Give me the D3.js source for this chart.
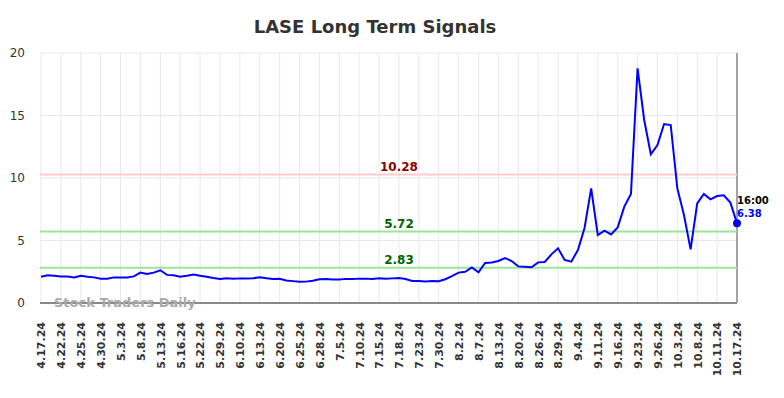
<!DOCTYPE html>
<head>
<meta charset="utf-8">
<style>
  body { margin:0; background:#fff; }
  text { font-family: "DejaVu Sans", sans-serif; }
  .grid line { stroke:#e8e8e8; stroke-width:1; }
</style>
</head>
<body>
<script src="https://cdn.jsdelivr.net/npm/d3@7/dist/d3.min.js"></script>
<script>

var width = 784,
    height = 398;

// tick labels, one every third point
var tickLabels = ["4.17.24","4.22.24","4.25.24","4.30.24","5.3.24","5.8.24","5.13.24","5.16.24",
  "5.22.24","5.29.24","6.10.24","6.13.24","6.20.24","6.25.24","6.28.24","7.5.24","7.10.24",
  "7.15.24","7.18.24","7.23.24","7.30.24","8.2.24","8.7.24","8.13.24","8.20.24","8.26.24",
  "8.29.24","9.4.24","9.11.24","9.16.24","9.23.24","9.26.24","10.3.24","10.8.24","10.11.24","10.17.24"];

var signal = [2.10,2.22,2.18,2.12,2.12,2.05,2.18,2.10,2.05,1.95,1.95,2.05,2.05,2.05,2.13,2.43,
  2.32,2.43,2.62,2.25,2.22,2.10,2.18,2.28,2.18,2.10,2.00,1.93,1.97,1.95,1.97,1.97,1.98,2.05,
  1.98,1.92,1.93,1.80,1.75,1.70,1.71,1.78,1.90,1.92,1.88,1.88,1.93,1.93,1.95,1.95,1.93,1.97,
  1.95,1.97,2.00,1.92,1.76,1.76,1.72,1.75,1.74,1.90,2.15,2.43,2.50,2.85,2.45,3.20,3.24,3.36,
  3.60,3.36,2.93,2.90,2.86,3.25,3.28,3.89,4.37,3.44,3.31,4.24,6.00,9.17,5.44,5.79,5.49,6.05,
  7.71,8.72,18.77,14.64,11.90,12.64,14.32,14.24,9.17,7.04,4.29,7.97,8.72,8.29,8.56,8.61,8.03,6.38];

var levels = [10.28, 5.72, 2.83];
var levelLine = ["#ffcccc", "#99e699", "#99e699"];
var levelText = ["#8b0000", "#006400", "#006400"];
var yTicks = [0, 5, 10, 15, 20];
var lastTime = "16:00";

var x = d3.scaleLinear().domain([0, signal.length - 1]).range([41, 737]);
var y = d3.scaleLinear().domain([0, 20]).range([303, 53]);

var svg = d3.select("body").append("svg")
    .attr("width", width)
    .attr("height", height);

svg.append("text")
    .attr("x", 375).attr("y", 33)
    .attr("text-anchor", "middle")
    .style("font-size", "18px").style("font-weight", "bold").style("fill", "#333")
    .text("LASE Long Term Signals");

// grid
var grid = svg.append("g").attr("class", "grid");
grid.selectAll(".gy").data(yTicks).enter().append("line")
    .attr("x1", 40).attr("x2", 737)
    .attr("y1", d => y(d)).attr("y2", d => y(d));
grid.selectAll(".gx").data(tickLabels).enter().append("line")
    .attr("x1", (d, i) => x(i * 3)).attr("x2", (d, i) => x(i * 3))
    .attr("y1", 53).attr("y2", 303);

// y axis labels
var yAxis = d3.axisLeft(y).tickValues(yTicks).tickSize(0).tickPadding(0);
svg.append("g")
    .attr("transform", "translate(25,0)")
    .call(yAxis)
    .call(g => g.select(".domain").remove())
    .selectAll("text")
    .style("font-size", "12px").style("fill", "#333")
    .style("font-family", "DejaVu Sans");

// x axis labels
var xAxis = d3.axisBottom(x)
    .tickValues(d3.range(tickLabels.length).map(i => i * 3))
    .tickFormat((d, i) => tickLabels[i])
    .tickSize(0);
svg.append("g")
    .attr("transform", "translate(0,303)")
    .call(xAxis)
    .call(g => g.select(".domain").remove())
    .selectAll("text")
    .attr("transform", "rotate(-90)")
    .attr("x", -19).attr("y", 0).attr("dy", "0.35em")
    .attr("text-anchor", "end")
    .style("font-size", "11px").style("font-weight", "bold").style("fill", "#333")
    .style("font-family", "DejaVu Sans");

// frame lines
svg.append("line").attr("x1", 40).attr("x2", 737).attr("y1", y(0)).attr("y2", y(0))
    .style("stroke", "#666").style("stroke-width", 1.5);
svg.append("line").attr("x1", 737).attr("x2", 737).attr("y1", 53).attr("y2", 303)
    .style("stroke", "#888").style("stroke-width", 1.5);

// signal levels
svg.selectAll(".level").data(levels).enter().append("line")
    .attr("x1", 40).attr("x2", 737)
    .attr("y1", d => y(d)).attr("y2", d => y(d))
    .style("stroke", (d, i) => levelLine[i]).style("stroke-width", 2);
svg.selectAll(".levelLabel").data(levels).enter().append("text")
    .attr("x", 399).attr("y", d => y(d) - 4)
    .attr("text-anchor", "middle")
    .style("font-size", "12px").style("font-weight", "bold")
    .style("fill", (d, i) => levelText[i])
    .text(d => d.toFixed(2));

svg.append("text")
    .attr("x", 54).attr("y", 307)
    .style("font-size", "13px").style("font-weight", "bold").style("fill", "#aaa")
    .text("Stock Traders Daily");

var line = d3.line()
    .x((d, i) => x(i))
    .y(d => y(d));

svg.append("path")
    .datum(signal)
    .attr("d", line)
    .style("fill", "none").style("stroke", "#0000ff").style("stroke-width", 2);

var last = signal.length - 1;
svg.append("circle")
    .attr("cx", x(last)).attr("cy", y(signal[last])).attr("r", 4)
    .style("fill", "#0000ff");
svg.append("text")
    .attr("x", x(last)).attr("y", 204)
    .style("font-size", "10px").style("font-weight", "bold").style("fill", "#000")
    .text(lastTime);
svg.append("text")
    .attr("x", x(last)).attr("y", 217)
    .style("font-size", "10px").style("font-weight", "bold").style("fill", "#0000ff")
    .text(signal[last].toFixed(2));

</script>
</body>
